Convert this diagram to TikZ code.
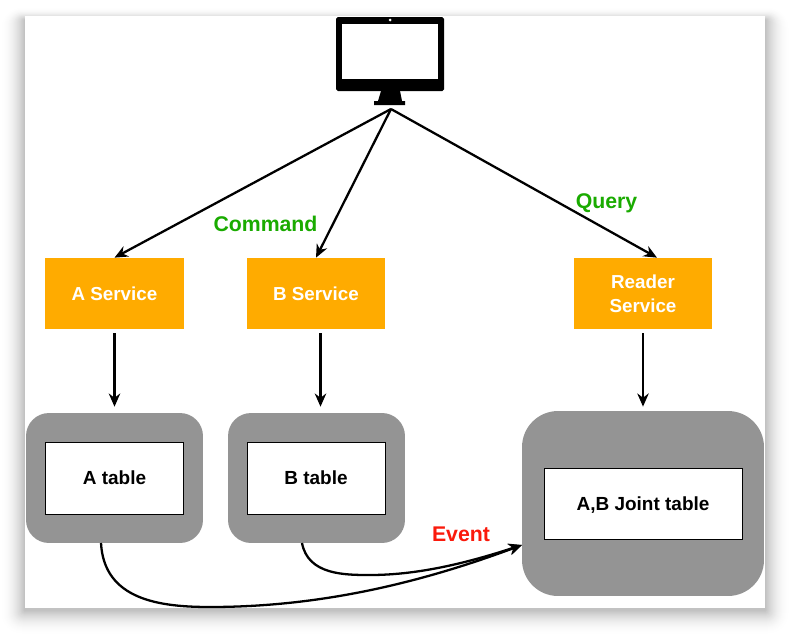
\documentclass[tikz,border=0pt]{standalone}
\usepackage{fontspec}
\setmainfont{Liberation Sans}
\usepackage{xcolor}
\usetikzlibrary{arrows.meta,positioning,calc}
\definecolor{svcorange}{RGB}{255,171,0}
\definecolor{dbgray}{RGB}{148,148,148}
\definecolor{cmdgreen}{RGB}{26,171,0}
\definecolor{evtred}{RGB}{250,26,12}
\tikzset{
  service/.style={fill=svcorange,text=white,font=\fontsize{10.7}{13.5}\selectfont\bfseries,
    minimum width=2.78cm,minimum height=1.42cm,align=center,inner sep=0pt},
  tablebox/.style={draw=black,line width=0.5pt,fill=white,font=\fontsize{10.8}{13}\selectfont\bfseries,
    minimum width=2.76cm,minimum height=1.44cm,inner sep=0pt,text height=7.8pt,text depth=0pt},
  dbshell/.style={fill=dbgray,rounded corners=0.46cm,inner sep=0pt},
  flow/.style={-{Stealth[length=7.5pt,width=6.5pt]},line width=1.3pt,black},
  tag/.style={font=\fontsize{12.1}{14}\selectfont\bfseries,inner sep=0pt,text height=8.8pt,text depth=0pt}
}
\begin{document}
\begin{tikzpicture}[x=0.02cm,y=-0.02cm]
  \useasboundingbox (0,0) rectangle (790,636);
  % paper and its soft shadow
  \foreach \s [evaluate=\s as \c using 26*(1-\s/25)^2] in {24,23,...,1}
    \fill[black!\c,rounded corners=\s*0.5pt] (25-\s,20-0.5*\s) rectangle (765+\s,610+\s);
  \fill[white] (25,16) rectangle (765,608);
  % monitor
  \fill[black,rounded corners=1pt] (336,17) rectangle (444,91);
  \fill[white] (342,24) rectangle (438,79);
  \fill[white] (390,20) circle (1.5);
  \fill[black] (381,91) -- (400,91) -- (402,101) -- (405,101) -- (405,105) -- (374,105) -- (374,101) -- (378,101) -- cycle;
  \coordinate (screen) at (391,109);
  % services
  \node[service] (asvc) at (114.5,293.5) {A Service};
  \node[service] (bsvc) at (316,293.5) {B Service};
  \node[service] (rsvc) at (643,293.5) {Reader\\Service};
  % tables
  \node[dbshell,minimum width=3.54cm,minimum height=2.6cm] (adb) at (114.5,478) {};
  \node[dbshell,minimum width=3.54cm,minimum height=2.6cm] (bdb) at (316.5,478) {};
  \node[dbshell,minimum width=4.84cm,minimum height=3.7cm,rounded corners=0.72cm] (jdb) at (643,503.5) {};
  \node[tablebox] (atab) at (114.5,478) {A table};
  \node[tablebox] (btab) at (316,478) {B table};
  \node[tablebox,minimum width=3.96cm,minimum height=1.42cm] (jtab) at (643,503.5) {A,B Joint table};
  % labels
  \node[tag,text=cmdgreen] (cmd) at (265.5,224) {Command};
  \node[tag,text=cmdgreen] (qry) at (606.5,200.5) {Query};
  \node[tag,text=evtred] (evt) at (461,534) {Event};
  % command and query flows
  \draw[flow] (screen) -- (asvc.north);
  \draw[flow] (screen) -- (bsvc.north);
  \draw[flow] (screen) -- ($(rsvc.north)+(14,0)$);
  % writes
  \foreach \a/\b/\o/\e in {asvc/adb/0/3.4pt,bsvc/bdb/4.5/3.4pt,rsvc/jdb/0/2.3pt} {
    \coordinate (from) at ($(\a.south)+(\o,0)$);
    \draw[flow,shorten >=\e,shorten <=2.3pt] (from) -- (from |- \b.north);
  }
  % events
  \coordinate (ain) at (101,543);
  \coordinate (bin) at (302,543);
  \coordinate (jin) at (522,545);
  \draw[flow] (ain) .. controls (104,600) and (160,607) .. (210,607) .. controls (320,607) and (420,583) .. (jin);
  \draw[flow] (bin) .. controls (308,575) and (345,575) .. (370,575) .. controls (420,575) and (470,562) .. (jin);
\end{tikzpicture}
\end{document}
